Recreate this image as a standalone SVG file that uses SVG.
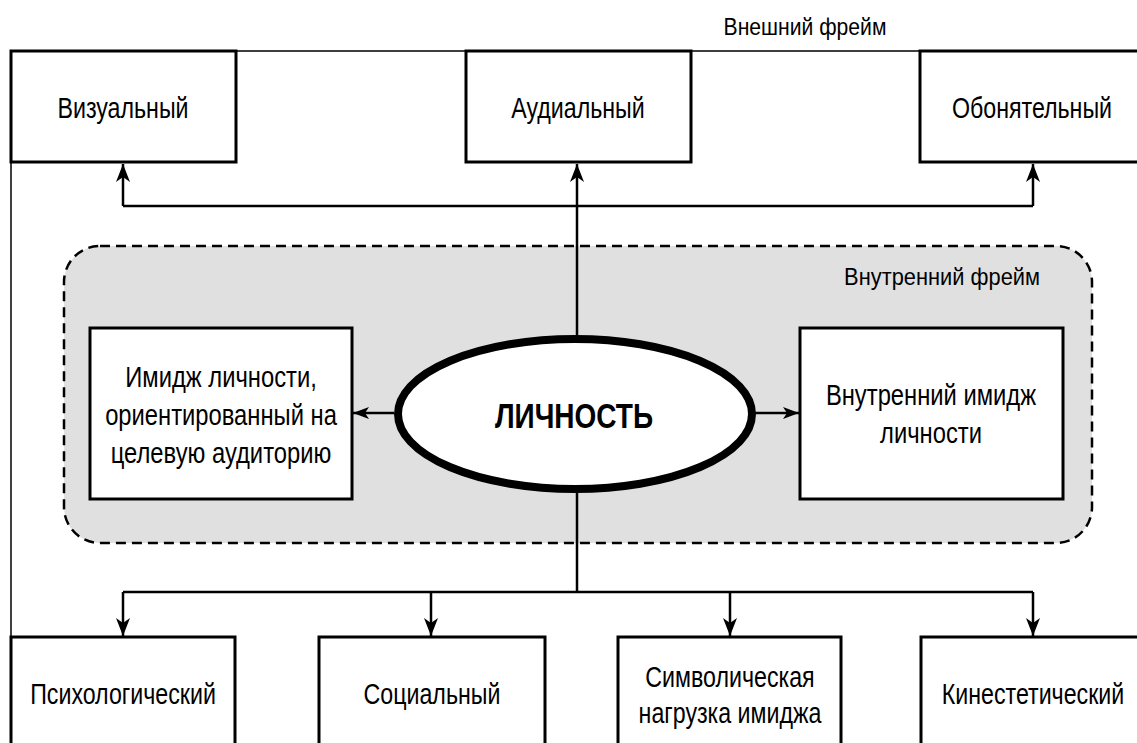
<svg xmlns="http://www.w3.org/2000/svg" width="1137" height="743" viewBox="0 0 1137 743">
<style>
.box{fill:#fff;stroke:#000;stroke-width:3}
.t{font-family:"Liberation Sans",Arial,sans-serif;font-size:29px;fill:#000;text-anchor:middle}
.lbl{font-family:"Liberation Sans",Arial,sans-serif;font-size:23px;fill:#000}
.c{fill:none;stroke:#000;stroke-width:2.5}
.frame{fill:none;stroke:#000;stroke-width:1.5}
</style>
<defs>
<marker id="ah" markerUnits="userSpaceOnUse" viewBox="0 0 18 14" refX="18" refY="7" markerWidth="18" markerHeight="14" orient="auto">
<path d="M18,7 L0,0 L5,7 L0,14 z" fill="#000"/>
</marker>
<marker id="ahs" markerUnits="userSpaceOnUse" viewBox="0 0 16 12" refX="16" refY="6" markerWidth="16" markerHeight="12" orient="auto">
<path d="M16,6 L0,0 L4,6 L0,12 z" fill="#000"/>
</marker>
</defs>
<rect width="1137" height="743" fill="#fff"/>
<g id="outer-frame">
<path class="frame" d="M11,640 V51 H1140"/>
<text class="lbl" transform="translate(805,35) scale(0.92,1)" text-anchor="middle">Внешний фрейм</text>
</g>
<g id="inner-frame">
<rect x="64" y="246" width="1028" height="297" rx="36" ry="36" fill="#e0e0e0" stroke="#000" stroke-width="2.5" stroke-dasharray="10,6"/>
<text class="lbl" transform="translate(1040,285) scale(0.95,1)" text-anchor="end">Внутренний фрейм</text>
</g>
<g id="connectors">
<path class="c" d="M577,337 V164" marker-end="url(#ah)"/>
<path class="c" d="M123,206 H1033"/>
<path class="c" d="M123,206 V164" marker-end="url(#ah)"/>
<path class="c" d="M1033,206 V164" marker-end="url(#ah)"/>
<path class="c" d="M394,413 H353" marker-end="url(#ahs)"/>
<path class="c" d="M755,413 H799" marker-end="url(#ahs)"/>
<path class="c" d="M577,490 V592"/>
<path class="c" d="M123,592 H1033"/>
<path class="c" d="M123,592 V636" marker-end="url(#ah)"/>
<path class="c" d="M431,592 V636" marker-end="url(#ah)"/>
<path class="c" d="M730,592 V636" marker-end="url(#ah)"/>
<path class="c" d="M1033,592 V636" marker-end="url(#ah)"/>
</g>
<g id="visual">
<rect class="box" x="11" y="51" width="225" height="111"/>
<text class="t" transform="translate(123,118) scale(0.8,1)">Визуальный</text>
</g>
<g id="audial">
<rect class="box" x="466" y="51" width="225" height="111"/>
<text class="t" transform="translate(578,118) scale(0.8,1)">Аудиальный</text>
</g>
<g id="olfactory">
<rect class="box" x="920" y="51" width="230" height="111"/>
<text class="t" transform="translate(1032,118) scale(0.8,1)">Обонятельный</text>
</g>
<g id="target-image">
<rect class="box" x="90" y="328" width="262" height="171"/>
<text class="t" transform="translate(221,387) scale(0.82,1)">Имидж личности,</text>
<text class="t" transform="translate(221,425) scale(0.82,1)">ориентированный на</text>
<text class="t" transform="translate(221,463) scale(0.82,1)">целевую аудиторию</text>
</g>
<g id="inner-image">
<rect class="box" x="800" y="328" width="263" height="171"/>
<text class="t" transform="translate(931,405) scale(0.82,1)">Внутренний имидж</text>
<text class="t" transform="translate(931,443) scale(0.82,1)">личности</text>
</g>
<g id="personality">
<ellipse cx="575" cy="414" rx="177" ry="75" fill="#fff" stroke="#000" stroke-width="8"/>
<text class="t" transform="translate(574,428) scale(0.8,1)" style="font-size:35px;font-weight:bold">ЛИЧНОСТЬ</text>
</g>
<g id="psych">
<rect class="box" x="11" y="637" width="224" height="120"/>
<text class="t" transform="translate(123,704) scale(0.8,1)">Психологический</text>
</g>
<g id="social">
<rect class="box" x="319" y="637" width="226" height="120"/>
<text class="t" transform="translate(432,704) scale(0.8,1)">Социальный</text>
</g>
<g id="symbolic">
<rect class="box" x="618" y="637" width="223" height="120"/>
<text class="t" transform="translate(730,687) scale(0.8,1)">Символическая</text>
<text class="t" transform="translate(730,723) scale(0.8,1)">нагрузка имиджа</text>
</g>
<g id="kinesthetic">
<rect class="box" x="921" y="637" width="230" height="120"/>
<text class="t" transform="translate(1033,704) scale(0.8,1)">Кинестетический</text>
</g>
</svg>
